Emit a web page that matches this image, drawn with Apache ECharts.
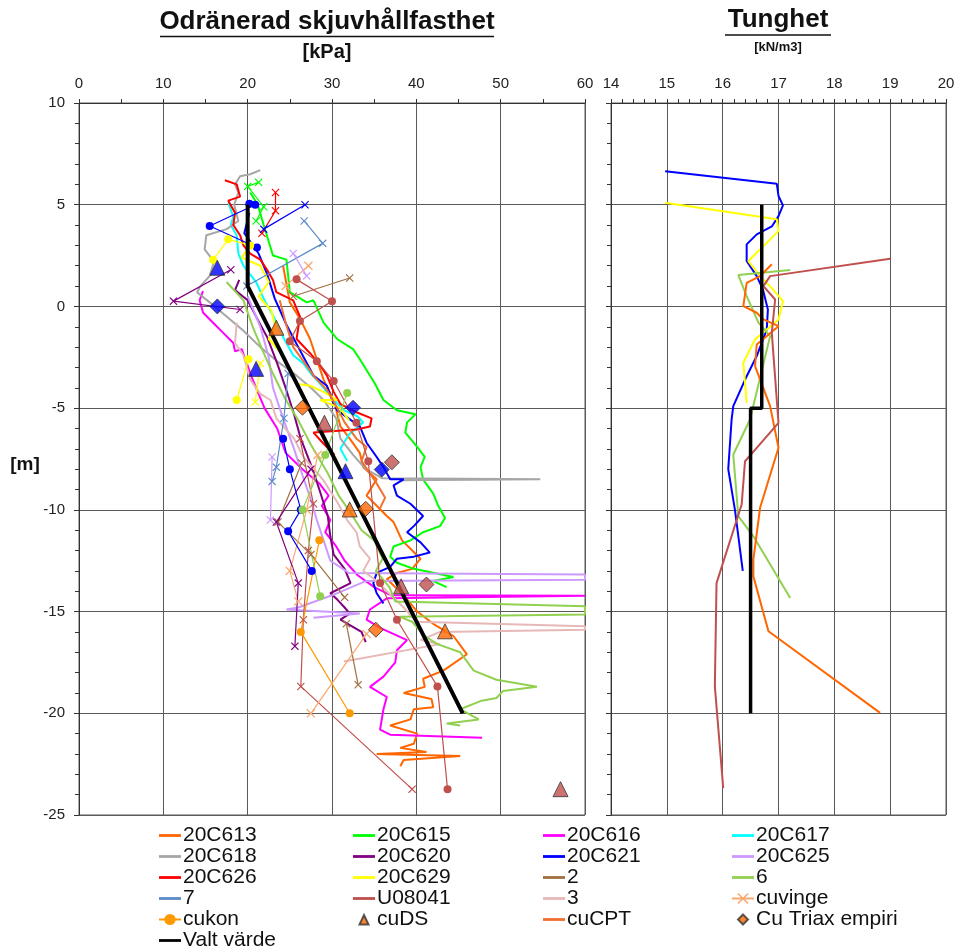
<!DOCTYPE html>
<html>
<head>
<meta charset="utf-8">
<script src="https://cdn.jsdelivr.net/npm/echarts@6/dist/echarts.min.js"></script>
<style>
  html, body { margin: 0; padding: 0; background: #fff; }
  #main { width: 964px; height: 949px; }
</style>
</head>
<body>
<div id="main"></div>
<script>
// Skjuvhållfasthet [kPa, nivå m]
const cpt613 = [[24.2,2.0],[25.0,0.2],[26.2,-0.6],[27.4,-1.6],[28.2,-2.6],[29.0,-3.6],[30.2,-4.6],[31.0,-5.9],[32.1,-6.5],[33.3,-7.2],[33.7,-7.9],[35.3,-8.5],[34.1,-9.3],[35.3,-9.8],[36.5,-10.3],[37.3,-10.6],[38.3,-11.5],[40.5,-12.4],[39.5,-12.9],[37.7,-13.1],[36.5,-13.4],[38.5,-14.2],[40.1,-15.0],[42.0,-15.6],[44.4,-16.2],[46.0,-17.1],[43.2,-17.9],[40.8,-18.3],[41.0,-18.7],[38.5,-19.0],[41.8,-19.3],[42.0,-19.7],[39.7,-19.8],[39.3,-20.3],[36.9,-20.6],[40.1,-21.0],[39.7,-21.5],[38.1,-21.7],[41.2,-21.9],[35.3,-22.0],[45.2,-22.1],[38.5,-22.3],[38.1,-22.6]];
const cpt615 = [[20.3,5.6],[21.2,5.0],[21.9,4.0],[23.0,2.5],[24.6,2.3],[25.0,0.7],[27.0,0.2],[27.8,0.3],[29.0,-0.8],[30.6,-1.6],[32.5,-2.1],[33.3,-2.6],[35.1,-3.8],[36.1,-4.6],[37.7,-5.1],[39.9,-5.3],[38.9,-5.7],[38.7,-6.2],[40.1,-6.9],[41.0,-7.4],[40.5,-7.9],[40.8,-8.5],[42.0,-9.2],[42.6,-9.8],[43.4,-10.4],[42.8,-10.8],[40.8,-11.1],[39.3,-11.5],[37.3,-11.8],[36.9,-12.3],[37.7,-12.6],[39.7,-12.9],[44.4,-13.3],[42.0,-13.5],[43.6,-13.8]];
const cpt616 = [[14.7,0.75],[14.3,0.3],[14.7,-0.3],[15.9,-0.8],[17.1,-1.3],[18.3,-1.8],[18.5,-2.2],[19.3,-2.1],[20.5,-3.5],[22.0,-5.0],[23.5,-6.0],[24.5,-7.2],[26.5,-8.0],[28.5,-8.7],[29.6,-9.3],[28.8,-9.8],[29.8,-10.5],[29.2,-11.1],[30.5,-11.8],[31.5,-12.5],[33.0,-13.2],[35.0,-13.8],[37.0,-14.2],[60,-14.22],[60,-14.3],[36.5,-14.35],[34.5,-14.9],[34.1,-15.4],[35.7,-15.8],[38.9,-16.4],[37.7,-16.9],[37.5,-17.5],[36.1,-18.2],[34.5,-18.7],[36.5,-19.2],[36.1,-19.8],[35.7,-20.8],[36.9,-21.05],[47.8,-21.2]];
const cpt617 = [[17.7,5.1],[18.3,4.4],[18.0,4.0],[18.7,3.5],[18.9,2.6],[19.5,2.0],[21.0,1.2],[22.0,0.3],[23.2,-0.6],[24.2,-1.5],[25.4,-2.4],[26.6,-2.8],[27.5,-3.3],[28.8,-3.9],[30.0,-4.5],[31.4,-5.1],[33.0,-5.4],[33.7,-5.7],[32.0,-6.3],[31.0,-7.0],[31.8,-7.6]];
const cpt618 = [[21.5,6.7],[20.3,6.5],[19.1,6.4],[18.5,6.0],[18.9,5.6],[18.4,5.0],[18.9,4.2],[17.5,3.8],[15.1,3.5],[14.9,2.8],[16.0,2.2],[15.5,1.5],[14.4,1.0],[14.0,0.7],[15.5,0.2],[17.5,-0.5],[19.5,-1.2],[21.5,-2.0],[23.5,-2.7],[25.5,-3.3],[27.5,-4.0],[29.0,-4.6],[30.5,-5.5],[31.0,-6.5],[32.5,-7.3],[34.0,-8.0],[36.0,-8.45],[54.7,-8.5],[38.0,-8.55]];
const cpt620 = [[19.0,1.3],[18.5,0.8],[20.0,0.3],[21.0,-0.5],[22.3,-1.5],[23.5,-2.8],[24.5,-4.0],[25.5,-5.3],[26.3,-6.5],[27.7,-8.0],[28.5,-9.0],[29.5,-10.3],[29.8,-11.3],[30.2,-12.2],[31.5,-12.9],[32.2,-13.6],[29.8,-14.1],[30.6,-14.4],[31.5,-14.8],[32.1,-15.1],[31.0,-15.4],[33.5,-16.0],[34.0,-16.5]];
const cpt621 = [[20.2,4.6],[19.6,3.6],[21.3,2.6],[22.3,1.6],[23.2,0.4],[24.6,-0.9],[26.0,-2.0],[27.8,-3.4],[29.4,-3.9],[30.0,-4.6],[30.6,-5.1],[33.3,-5.9],[34.1,-6.7],[35.3,-7.4],[36.1,-7.9],[36.9,-8.5],[38.5,-8.5],[37.3,-8.8],[37.7,-9.3],[39.3,-9.7],[40.8,-10.3],[39.7,-10.8],[38.9,-11.1],[40.5,-11.6],[41.6,-12.1],[39.7,-12.3],[37.7,-12.4],[36.9,-12.8],[35.3,-13.1],[34.9,-13.6],[35.3,-14.1],[36.1,-14.6]];
const cpt625 = [[20.0,0.5],[21.5,-1.0],[22.5,-2.5],[23.0,-4.0],[24.2,-5.5],[25.5,-7.0],[26.5,-8.3],[27.5,-9.5],[28.2,-10.5],[29.0,-11.5],[29.8,-12.5],[32.0,-13.1],[60,-13.18],[60,-13.43],[34.0,-13.5],[30.0,-14.2],[26.0,-14.8],[24.6,-14.9],[33.3,-15.1],[27.8,-15.3]];
const cpt626 = [[17.3,6.2],[18.7,6.0],[19.1,5.4],[17.7,5.2],[18.5,4.6],[18.3,4.0],[19.1,3.5],[19.5,3.0],[20.3,2.6],[21.5,2.3],[22.3,1.8],[23.0,1.3],[23.4,0.7],[25.4,0.3],[26.2,-0.5],[25.8,-1.6],[27.4,-2.3],[28.6,-2.9],[29.4,-3.4],[30.2,-4.2],[31.0,-4.8],[32.9,-5.2],[34.7,-5.5],[34.5,-5.9],[32.9,-6.05],[27.8,-6.2],[28.9,-6.7],[30.3,-7.3]];
const cpt629 = [[20.3,3.0],[19.3,2.4],[21.5,2.0],[22.5,1.2],[21.3,0.5],[22.8,-0.2],[23.3,-1.0],[22.5,-1.6],[24.0,-2.3],[25.8,-3.8],[27.4,-3.9],[29.0,-4.2],[30.6,-4.6],[28.6,-4.6],[31.0,-5.0],[32.0,-5.6]];
const cpt3 = [[18.7,-0.8],[18.5,-1.8],[19.5,-2.4],[20.3,-3.6],[21.5,-4.3],[22.7,-4.6],[23.4,-5.5],[25.5,-6.5],[26.6,-7.4],[28.9,-8.5],[30.6,-9.6],[31.8,-10.5],[32.9,-11.1],[33.3,-11.8],[34.5,-12.4],[33.7,-13.0],[35.3,-13.5],[36.5,-14.0],[38.5,-14.8],[40.0,-15.5],[60,-15.72],[60,-15.89],[42.8,-16.0],[40.5,-16.4],[42.8,-16.6],[31.4,-17.45]];
const cpt6 = [[17.5,1.2],[19.5,0.3],[20.6,-1.0],[21.8,-2.2],[23.0,-3.3],[24.4,-4.5],[26.0,-5.6],[27.5,-6.8],[29.5,-8.2],[30.8,-9.3],[32.3,-10.2],[33.5,-11.0],[35.0,-11.5],[36.0,-12.4],[35.2,-13.0],[36.8,-13.8],[37.5,-14.5],[60,-14.74],[60,-15.15],[38.0,-15.25],[39.5,-15.5],[41.0,-16.2],[42.5,-16.6],[45.2,-17.0],[46.8,-17.9],[49.5,-18.35],[54.3,-18.7],[50.3,-18.9],[49.5,-19.25],[47.6,-19.4],[45.2,-19.8],[47.4,-20.3],[43.6,-20.5],[45.2,-20.6]];
const cuCPT = [[23.8,0.3],[24.5,-0.8],[25.4,-2.0],[26.8,-2.8],[28.0,-3.5],[29.4,-4.1],[30.5,-4.9],[31.5,-5.7],[32.9,-6.5],[34.1,-6.9],[33.5,-7.6],[35.3,-8.7],[36.3,-9.4],[35.6,-10.0]];
const valtVarde = [[20,5],[20,1],[45.5,-20]];

// vinge- och konlinjer (segment)
const vinge615 = [[[21.3,6.1],[20.0,5.9],[21.9,4.9],[21.0,4.2]]];
const vinge626 = [[[23.3,5.6],[23.3,4.7],[21.7,3.6]]];
const vinge621 = [[[21.9,3.8],[26.8,5.0]]];
const kon621 = [[[20.2,5.05],[20.9,5.0],[15.5,3.95],[21.1,2.9]], [[24.2,-6.5],[25.0,-8.0],[26.3,-10.0],[24.8,-11.05],[27.6,-13.0]]];
const vinge620 = [[[18.0,1.8],[11.2,0.26],[19.1,-0.15]], [[27.5,-8.0],[23.4,-10.6],[26.0,-13.6],[25.6,-16.7]]];
const vinge2 = [[[32.1,1.4],[25.4,0.5]], [[26.4,-7.7],[23.6,-10.6],[27.5,-12.2],[31.5,-14.3]], [[31.7,-15.6],[33.1,-18.6]]];
const vinge7 = [[[26.7,4.2],[28.9,3.1],[19.9,1.0]], [[24.8,-3.3],[24.3,-5.5],[23.4,-7.9],[22.9,-8.6]]];
const vinge625 = [[[25.4,2.6],[27.0,1.5]], [[22.9,-7.4],[22.7,-10.5]]];
const kon629 = [[[15.9,2.3],[17.7,3.3],[20.3,3.0]], [[18.7,-4.6],[20.1,-2.6]]];
const vinge629 = [[[20.9,-4.7],[21.5,-2.8]]];
const kon6 = [[[31.8,-4.25],[29.2,-7.3],[26.5,-10.0],[28.6,-14.25]]];
const konU = [[[25.8,1.33],[30.0,0.26],[26.2,-0.72],[25.0,-1.71],[28.2,-2.69],[30.2,-3.67],[32.9,-5.72],[34.3,-7.61],[35.7,-13.59],[37.7,-15.4],[42.5,-18.68],[43.7,-23.73]]];
const vingeU = [[[26.2,-6.5],[27.8,-9.7],[27.2,-12.0],[26.6,-15.4],[26.3,-18.68],[39.5,-23.73]]];
const cuvinge = [[[27.2,2.0],[24.5,1.0]], [[28.3,-7.3],[27.0,-10.0],[25.0,-13.0],[26.0,-14.5]], [[34.1,-16.1],[27.5,-20.0]]];
const cukon = [[[28.5,-11.5],[26.3,-16.0],[32.1,-20.0]]];

// punktvärden
const ds621 = [[16.4,1.9],[21.0,-3.07],[31.6,-8.1]];
const triax621 = [[16.4,0.0],[32.5,-4.98],[35.9,-8.02]];
const dsU = [[29.1,-5.72],[38.2,-13.76],[57.1,-23.73]];
const triaxU = [[37.1,-7.66],[41.2,-13.67]];
const cuDS = [[23.4,-1.05],[32.1,-9.98],[43.4,-15.97]];
const cuTriax = [[26.5,-4.98],[34.0,-9.95],[35.2,-15.89]];

// Tunghet [kN/m3, nivå m]
const gam621 = [[14.97,6.65],[16.97,6.03],[17.0,5.43],[17.08,4.97],[17.0,4.44],[16.88,3.93],[16.61,3.54],[16.43,3.05],[16.43,2.23],[16.61,1.49],[16.72,0.84],[16.81,-0.15],[16.79,-1.13],[16.61,-2.44],[16.43,-3.43],[16.19,-4.9],[16.16,-5.56],[16.1,-8.0],[16.22,-10.0],[16.36,-13.0]];
const gam629 = [[14.97,5.1],[16.97,4.28],[17.0,3.7],[16.46,2.23],[16.67,1.49],[16.9,0.84],[17.08,0.26],[17.0,-0.64],[16.79,-1.13],[16.58,-1.62],[16.37,-2.77],[16.43,-4.74]];
const gam6 = [[17.21,1.79],[16.28,1.54],[16.43,0.51],[16.64,-0.8],[16.85,-1.46],[16.49,-5.56],[16.19,-7.28],[16.28,-10.31],[16.55,-11.3],[17.21,-14.33]];
const gam613 = [[16.88,2.07],[16.67,1.49],[16.43,1.16],[16.37,0.02],[16.61,-0.31],[16.73,-0.64],[17.0,-0.97],[16.61,-1.87],[16.58,-2.93],[16.85,-4.9],[17.0,-6.95],[16.67,-9.9],[16.55,-12.44],[16.55,-13.27],[16.82,-15.97],[18.82,-19.98]];
const gamU = [[19.0,2.34],[16.85,1.49],[16.73,1.0],[16.94,0.34],[16.88,-1.3],[17.0,-5.72],[16.61,-6.95],[16.4,-7.61],[16.34,-9.74],[15.89,-13.6],[15.86,-18.68],[16.01,-23.68]];
const gamValt = [[16.7,5],[16.7,-5],[16.5,-5],[16.5,-20]];

const legendCols = [
    ['20C613', '20C618', '20C626', '7', 'cukon', 'Valt värde'],
    ['20C615', '20C620', '20C629', 'U08041', 'cuDS'],
    ['20C616', '20C621', '2', '3', 'cuCPT'],
    ['20C617', '20C625', '6', 'cuvinge', 'Cu Triax empiri']
];

const colors = {
    '20C613': '#FF6600', '20C615': '#00FF00', '20C616': '#FF00FF', '20C617': '#00FFFF',
    '20C618': '#A6A6A6', '20C620': '#800080', '20C621': '#0000FF', '20C625': '#CC99FF',
    '20C626': '#FF0000', '20C629': '#FFFF00', '2': '#A07040', '6': '#92D050',
    '7': '#5B8BC8', 'U08041': '#C0504D', '3': '#E6B9B8',
    'cukon': '#FF9900', 'cuDS': '#E46C0A', 'cuCPT': '#F07030', 'cuvinge': '#F9A870',
    'Cu Triax empiri': '#E46C0A', 'Valt värde': '#000000'
};

const crossSymbol = 'path://M1,0L5,4L9,0L10,1L6,5L10,9L9,10L5,6L1,10L0,9L4,5L0,1Z';
const lineIcon = 'path://M0,0M0,5.6L22,5.6L22,8.4L0,8.4ZM22,14';
const triIcon = 'path://M0,0M11,2.5L15.5,12L6.5,12ZM22,14';
const diaIcon = 'path://M0,0M11,2L16,7L11,12L6,7ZM22,14';

function legendItem(name) {
    if (name === 'cukon' || name === 'cuvinge') return { name: name };
    if (name === 'cuDS') return { name: name, icon: triIcon };
    if (name === 'Cu Triax empiri') return { name: name, icon: diaIcon };
    return { name: name, icon: lineIcon };
}

function cpt(name, data, grid) {
    return {
        name: name, type: 'line', data: data,
        xAxisIndex: grid || 0, yAxisIndex: grid || 0,
        symbol: 'none', z: 2,
        lineStyle: { color: colors[name], width: 2 },
        itemStyle: { color: colors[name] }
    };
}

function thin(name, segs, symbol, size) {
    return segs.map(seg => ({
        name: name, type: 'line', data: seg,
        symbol: symbol, symbolSize: size, showSymbol: true, z: 3,
        lineStyle: { color: colors[name], width: 1.2 },
        itemStyle: { color: colors[name] }
    }));
}

function marks(name, data, symbol, color) {
    return {
        name: name, type: 'scatter', data: data,
        symbol: symbol, symbolSize: 15, z: 6,
        itemStyle: { color: color || colors[name], borderColor: '#333', borderWidth: 1 }
    };
}

let series = [
    cpt('Valt värde', valtVarde),
    cpt('20C613', cpt613), cpt('20C615', cpt615), cpt('20C616', cpt616),
    cpt('20C617', cpt617), cpt('20C618', cpt618), cpt('20C620', cpt620),
    cpt('20C621', cpt621), cpt('20C625', cpt625), cpt('20C626', cpt626),
    cpt('20C629', cpt629), cpt('3', cpt3), cpt('6', cpt6), cpt('cuCPT', cuCPT)
];
series[0].lineStyle.width = 4;
series[0].z = 5;

series = series.concat(
    thin('2', vinge2, crossSymbol, 8),
    thin('7', vinge7, crossSymbol, 8),
    thin('U08041', konU, 'circle', 8),
    thin('U08041', vingeU, crossSymbol, 8),
    thin('cukon', cukon, 'circle', 8),
    thin('cuvinge', cuvinge, crossSymbol, 9),
    thin('20C615', vinge615, crossSymbol, 8),
    thin('20C626', vinge626, crossSymbol, 8),
    thin('20C621', vinge621, crossSymbol, 8),
    thin('20C621', kon621, 'circle', 8),
    thin('20C620', vinge620, crossSymbol, 8),
    thin('20C625', vinge625, crossSymbol, 8),
    thin('20C629', kon629, 'circle', 8),
    thin('20C629', vinge629, crossSymbol, 8),
    thin('6', kon6, 'circle', 8)
);

series.push(
    cpt('20C621', gam621, 1), cpt('20C629', gam629, 1), cpt('6', gam6, 1),
    cpt('20C613', gam613, 1), cpt('U08041', gamU, 1),
    Object.assign(cpt('Valt värde', gamValt, 1), { lineStyle: { color: '#000', width: 3.5 }, z: 5 }),
    marks('cuDS', cuDS, 'triangle', '#FF6600'),
    marks('Cu Triax empiri', cuTriax, 'diamond', '#FF6600'),
    marks('20C621', ds621, 'triangle'),
    marks('20C621', triax621, 'diamond'),
    marks('U08041', dsU, 'triangle'),
    marks('U08041', triaxU, 'diamond')
);

const legendLeft = [158, 352, 543, 731];

const axisText = { color: '#222', fontSize: 15, fontFamily: 'Liberation Sans, Arial, sans-serif' };
const gridLine = { show: true, lineStyle: { color: '#5a5a5a', width: 1 } };
const axLine = { show: true, onZero: false, lineStyle: { color: '#333' } };

const option = {
    animation: false,
    backgroundColor: '#fff',
    textStyle: { fontFamily: 'Liberation Sans, Arial, sans-serif' },
    grid: [
        { left: 79, top: 103, width: 506, height: 712, show: true, borderColor: '#5a5a5a' },
        { left: 611, top: 103, width: 335, height: 712, show: true, borderColor: '#5a5a5a' }
    ],
    xAxis: [
        {
            type: 'value', gridIndex: 0, position: 'top', min: 0, max: 60, interval: 10,
            axisLine: axLine,
            axisTick: { show: true, length: 4, lineStyle: { color: '#333' } },
            minorTick: { show: true, splitNumber: 2, length: 4, lineStyle: { color: '#333' } },
            axisLabel: Object.assign({ margin: 12 }, axisText),
            splitLine: gridLine
        },
        {
            type: 'value', gridIndex: 1, position: 'top', min: 14, max: 20, interval: 1,
            axisLine: axLine,
            axisTick: { show: true, length: 4, lineStyle: { color: '#333' } },
            minorTick: { show: true, splitNumber: 5, length: 4, lineStyle: { color: '#333' } },
            axisLabel: Object.assign({ margin: 12 }, axisText),
            splitLine: gridLine
        }
    ],
    yAxis: [
        {
            type: 'value', gridIndex: 0, min: -25, max: 10, interval: 5,
            axisLine: axLine,
            axisTick: { show: true, length: 5, lineStyle: { color: '#333' } },
            minorTick: { show: true, splitNumber: 5, length: 4, lineStyle: { color: '#333' } },
            axisLabel: Object.assign({ margin: 14 }, axisText),
            splitLine: gridLine
        },
        {
            type: 'value', gridIndex: 1, min: -25, max: 10, interval: 5,
            axisLine: axLine,
            axisTick: { show: true, length: 5, lineStyle: { color: '#333' } },
            minorTick: { show: true, splitNumber: 5, length: 4, lineStyle: { color: '#333' } },
            axisLabel: { show: false },
            splitLine: gridLine
        }
    ],
    legend: legendCols.map((col, i) => ({
        data: col.map(legendItem),
        orient: 'vertical',
        left: legendLeft[i],
        top: 825,
        height: 140,
        padding: 0,
        itemGap: 0,
        itemWidth: 22,
        itemHeight: 14,
        selectedMode: false,
        textStyle: { fontSize: 21, lineHeight: 20, color: '#111', padding: [0, 0, 0, -3] }
    })),
    graphic: [
        { type: 'text', x: 327, y: 22, style: { text: 'Odränerad skjuvhållfasthet', font: 'bold 26px "Liberation Sans", Arial', fill: '#111', textAlign: 'center', textVerticalAlign: 'middle' } },
        { type: 'line', shape: { x1: 160, y1: 36.5, x2: 494, y2: 36.5 }, style: { stroke: '#111', lineWidth: 1.5 } },
        { type: 'text', x: 327, y: 52, style: { text: '[kPa]', font: 'bold 20px "Liberation Sans", Arial', fill: '#111', textAlign: 'center', textVerticalAlign: 'middle' } },
        { type: 'text', x: 778, y: 20, style: { text: 'Tunghet', font: 'bold 26px "Liberation Sans", Arial', fill: '#111', textAlign: 'center', textVerticalAlign: 'middle' } },
        { type: 'line', shape: { x1: 725, y1: 35, x2: 831, y2: 35 }, style: { stroke: '#111', lineWidth: 1.5 } },
        { type: 'text', x: 778, y: 47, style: { text: '[kN/m3]', font: 'bold 13px "Liberation Sans", Arial', fill: '#111', textAlign: 'center', textVerticalAlign: 'middle' } },
        { type: 'text', x: 25, y: 465, style: { text: '[m]', font: 'bold 19px "Liberation Sans", Arial', fill: '#111', textAlign: 'center', textVerticalAlign: 'middle' } }
    ],
    series: series
};

const chart = echarts.init(document.getElementById('main'));
chart.setOption(option);
</script>
</body>
</html>
